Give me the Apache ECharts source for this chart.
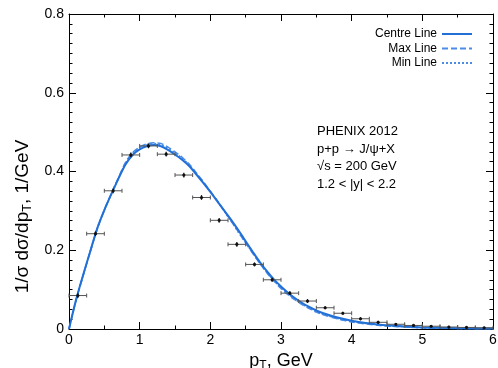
<!DOCTYPE html>
<html>
<head>
<meta charset="utf-8">
<script src="https://cdn.jsdelivr.net/npm/echarts@6/dist/echarts.min.js"></script>
<style>
html,body{margin:0;padding:0;background:#fff;}
#c{width:498px;height:368px;}
</style>
</head>
<body>
<div id="c"></div>
<script>
// ---- data ----
var curveX = [0,0.1,0.2,0.3,0.4,0.5,0.6,0.7,0.8,0.9,1.0,1.1,1.2,1.3,1.4,1.5,1.6,1.7,1.8,1.9,2.0,2.1,2.2,2.3,2.4,2.5,2.6,2.7,2.8,2.9,3.0,3.1,3.2,3.3,3.4,3.5,3.6,3.8,4.0,4.2,4.4,4.6,4.8,5.0,5.25,5.5,5.75,6.0];
var centreY = [0,0.074,0.137,0.197,0.256,0.302,0.343,0.382,0.418,0.442,0.456,0.464,0.467,0.464,0.455,0.443,0.430,0.414,0.393,0.371,0.348,0.324,0.300,0.276,0.250,0.223,0.196,0.170,0.147,0.126,0.108,0.092,0.078,0.066,0.056,0.047,0.040,0.029,0.021,0.015,0.011,0.008,0.0055,0.004,0.003,0.002,0.0015,0.001];
var maxY = [0,0.073,0.136,0.196,0.254,0.302,0.344,0.384,0.423,0.448,0.462,0.470,0.473,0.471,0.462,0.450,0.436,0.419,0.397,0.374,0.350,0.325,0.299,0.273,0.246,0.219,0.192,0.167,0.143,0.122,0.103,0.087,0.074,0.062,0.052,0.043,0.036,0.026,0.018,0.013,0.009,0.0065,0.0045,0.003,0.002,0.0015,0.001,0.0008];
var minY = [0,0.073,0.136,0.196,0.255,0.302,0.343,0.383,0.421,0.446,0.460,0.468,0.471,0.468,0.460,0.447,0.434,0.417,0.395,0.372,0.349,0.324,0.298,0.272,0.245,0.219,0.193,0.168,0.144,0.123,0.105,0.089,0.075,0.063,0.053,0.044,0.037,0.027,0.019,0.014,0.010,0.007,0.005,0.0035,0.0025,0.0018,0.0012,0.0009];

var ptX = [0.125,0.375,0.625,0.875,1.125,1.375,1.625,1.875,2.125,2.375,2.625,2.875,3.125,3.375,3.625,3.875,4.125,4.375,4.625,4.875,5.125,5.375,5.625,5.875];
var ptY = [0.085,0.242,0.351,0.442,0.465,0.444,0.391,0.334,0.276,0.215,0.164,0.125,0.091,0.071,0.054,0.040,0.026,0.017,0.012,0.009,0.007,0.005,0.004,0.003];
var ptXErr = [0.125,0.125,0.125,0.125,0.125,0.125,0.125,0.125,0.125,0.125,0.125,0.125,0.125,0.125,0.125,0.125,0.125,0.125,0.125,0.125,0.125,0.125,0.125,0.125];
var ptYErr = [0.006,0.006,0.006,0.006,0.006,0.006,0.006,0.006,0.006,0.006,0.005,0.005,0.005,0.005,0.004,0.004,0.004,0.004,0.003,0.003,0.003,0.003,0.003,0.003];

var xTicks = [0,1,2,3,4,5,6];
var yTicks = [0,0.2,0.4,0.6,0.8];
var legendNames = ['Centre Line','Max Line','Min Line'];
var infoLines = ['PHENIX 2012','p+p \u2192 J/\u03c8+X','\u221as = 200 GeV','1.2 < |y| < 2.2'];

// ---- build ----
function pairs(xs, ys){ return xs.map(function(x,i){ return [x, ys[i]]; }); }
var ptData = ptX.map(function(x,i){ return [x, ptY[i], ptXErr[i], ptYErr[i]]; });

var FONT = '"Liberation Sans", Arial, Helvetica, sans-serif';
var BLUE = '#2270d6';
var BLUE2 = '#4a8ce6';

var chart = echarts.init(document.getElementById('c'), null, {renderer:'canvas'});

var axisLineStyle = {color:'#000', width:1};
var tickCommon = {show:true, inside:true, length:7, lineStyle:{color:'#000', width:1}};
var minorCommon = {show:true, length:3.5, lineStyle:{color:'#000', width:1}};

var richX = {
  n: {fontSize:18, fontFamily:FONT, color:'#000', lineHeight:22},
  s: {fontSize:12, fontFamily:FONT, color:'#000', lineHeight:13, verticalAlign:'bottom'}
};
var richY = {
  n: {fontSize:19, fontFamily:FONT, color:'#000', lineHeight:22},
  s: {fontSize:12.5, fontFamily:FONT, color:'#000', lineHeight:13, verticalAlign:'bottom'},
  g: {width:90, fontSize:19, lineHeight:22}
};

var option = {
  animation:false,
  backgroundColor:'#fff',
  textStyle:{fontFamily:FONT},
  grid:{left:69, right:5, top:14, bottom:39, containLabel:false, outerBoundsMode:'none'},
  legend:{
    data:legendNames,
    orient:'vertical',
    right:20, top:23,
    align:'right',
    itemWidth:30, itemHeight:12, itemGap:2.5,
    itemStyle:{opacity:0},
    textStyle:{fontSize:12, color:'#000', fontFamily:FONT},
    selectedMode:false
  },
  xAxis:[{
    type:'value', min:xTicks[0], max:xTicks[xTicks.length-1], interval:1,
    axisLine:{show:true, onZero:false, lineStyle:axisLineStyle},
    axisTick:tickCommon,
    minorTick:Object.assign({splitNumber:2}, minorCommon),
    splitLine:{show:false}, minorSplitLine:{show:false},
    axisLabel:{fontSize:14, color:'#000', margin:4, fontFamily:FONT},
    name:'{n|p}{s|T}{n|, GeV}',
    nameLocation:'middle', nameGap:14,
    nameTextStyle:{rich:richX}
  },{
    type:'value', position:'top', min:xTicks[0], max:xTicks[xTicks.length-1], interval:1,
    axisLine:{show:true, onZero:false, lineStyle:axisLineStyle},
    axisTick:tickCommon,
    minorTick:Object.assign({splitNumber:2}, minorCommon),
    splitLine:{show:false}, axisLabel:{show:false}
  }],
  yAxis:[{
    type:'value', min:yTicks[0], max:yTicks[yTicks.length-1], interval:0.2,
    axisLine:{show:true, onZero:false, lineStyle:axisLineStyle},
    axisTick:tickCommon,
    minorTick:Object.assign({splitNumber:8}, minorCommon),
    splitLine:{show:false}, minorSplitLine:{show:false},
    axisLabel:{fontSize:14, color:'#000', margin:5, fontFamily:FONT},
    name:'{n|1/\u03c3 d\u03c3/dp}{s|T}{n|, 1/GeV}{g|}',
    nameLocation:'middle', nameGap:35, nameRotate:90,
    nameTextStyle:{rich:richY}
  },{
    type:'value', position:'right', min:yTicks[0], max:yTicks[yTicks.length-1], interval:0.2,
    axisLine:{show:true, onZero:false, lineStyle:axisLineStyle},
    axisTick:tickCommon,
    minorTick:Object.assign({splitNumber:8}, minorCommon),
    splitLine:{show:false}, axisLabel:{show:false}
  }],
  graphic:[{
    type:'text', left:317, top:123,
    style:{text:infoLines.join('\n'), font:'13px '+FONT, fill:'#000', lineHeight:17.5}
  }],
  series:[
    {
      name:legendNames[1], type:'line', data:pairs(curveX, maxY),
      showSymbol:false, symbol:'none', smooth:0.3,
      lineStyle:{color:BLUE2, width:1.6, type:[6,3]}, itemStyle:{color:BLUE2}, z:3
    },
    {
      name:legendNames[2], type:'line', data:pairs(curveX, minY),
      showSymbol:false, symbol:'none', smooth:0.3,
      lineStyle:{color:BLUE2, width:1.6, type:[2,2]}, itemStyle:{color:BLUE2}, z:3
    },
    {
      name:legendNames[0], type:'line', data:pairs(curveX, centreY),
      showSymbol:false, symbol:'none', smooth:0.3,
      lineStyle:{color:BLUE, width:2}, itemStyle:{color:BLUE}, z:4
    },
    {
      name:'data', type:'custom', data:ptData,
      encode:{x:0, y:1},
      z:5,
      renderItem:function(params, api){
        var x = api.value(0), y = api.value(1), xe = api.value(2), ye = api.value(3);
        var pl = api.coord([x-xe, y]), pr = api.coord([x+xe, y]);
        var pc = api.coord([x, y]);
        var pt = api.coord([x, y+ye]), pb = api.coord([x, y-ye]);
        var cap = 2;
        var st = {stroke:'#555', lineWidth:1};
        return {type:'group', children:[
          {type:'line', shape:{x1:pl[0], y1:pl[1], x2:pr[0], y2:pr[1]}, style:st},
          {type:'line', shape:{x1:pl[0], y1:pl[1]-cap, x2:pl[0], y2:pl[1]+cap}, style:st},
          {type:'line', shape:{x1:pr[0], y1:pr[1]-cap, x2:pr[0], y2:pr[1]+cap}, style:st},
          {type:'line', shape:{x1:pt[0], y1:pt[1], x2:pb[0], y2:pb[1]}, style:{stroke:'#111', lineWidth:1.2}},
          {type:'circle', shape:{cx:pc[0], cy:pc[1], r:1.6}, style:{fill:'#111'}}
        ]};
      }
    }
  ]
};
chart.setOption(option);
</script>
</body>
</html>
